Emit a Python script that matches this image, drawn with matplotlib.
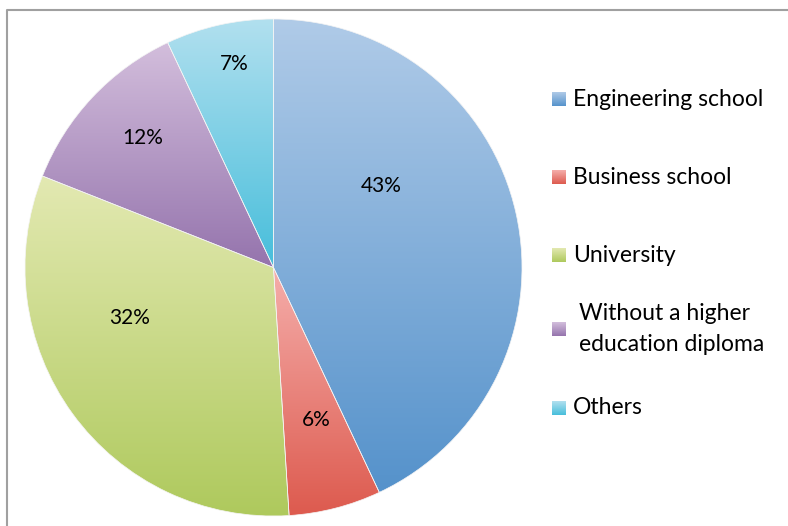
#!/usr/bin/env python3

import matplotlib
matplotlib.use('Agg')
import matplotlib.pyplot as plt
import numpy as np
from matplotlib.colors import LinearSegmentedColormap
from matplotlib.lines import Line2D

plt.rcParams['font.family'] = ['Lato', 'DejaVu Sans']

categories = ['Engineering school', 'Business school', 'University',
              'Without a higher\neducation diploma', 'Others']
shares = [43, 6, 32, 12, 7]
pct_labels = ['43%', '6%', '32%', '12%', '7%']

# (top colour, bottom colour) of each slice's gradient
grad_colors = [('#b0cbe8', '#5592cb'),
               ('#f5aeab', '#dd5a4e'),
               ('#e3e9b2', '#aec95c'),
               ('#d3bedc', '#9574ad'),
               ('#b2e0ef', '#47bedb')]

# where the percent labels sit, in pie radius units
label_pos = [(0.433, 0.328), (0.171, -0.614), (-0.581, -0.203),
             (-0.525, 0.521), (-0.159, 0.819)]

W, H = 788, 526
fig = plt.figure(figsize=(W / 100, H / 100), dpi=100)

# overlay axes in pixel units for frame and legend
lax = fig.add_axes([0, 0, 1, 1])
lax.set_xlim(0, W)
lax.set_ylim(H, 0)
lax.axis('off')

# pie axes: centre (273.5, 267.5), radius 248.5 px
cx, cy, R = 273.5, 267.5, 248.5
ax = fig.add_axes([(cx - R) / W, (H - cy - R) / H, 2 * R / W, 2 * R / H])

wedges, _ = ax.pie(shares, startangle=90, counterclock=False, radius=1,
                   wedgeprops=dict(facecolor='none', edgecolor='#f4f4f4', linewidth=0.5))

grad = np.linspace(0, 1, 256).reshape(-1, 1)
for w, (c_top, c_bot) in zip(wedges, grad_colors):
    verts = w.get_patch_transform().transform(w.get_path().vertices)
    x0, y0 = verts.min(axis=0)
    x1, y1 = verts.max(axis=0)
    cmap = LinearSegmentedColormap.from_list('g', [c_top, c_bot])
    im = ax.imshow(grad, cmap=cmap, extent=[x0, x1, y0, y1], origin='upper',
                   aspect='auto', interpolation='bilinear', zorder=0)
    im.set_clip_path(w)
    w.set_zorder(1)

for txt, (px, py) in zip(pct_labels, label_pos):
    ax.text(px, py, txt, ha='center', va='center', fontsize=15, color='black', zorder=3)

ax.set_xlim(-1, 1)
ax.set_ylim(-1, 1)
ax.set_aspect('auto')
ax.axis('off')

# chart area border (top and left visible)
lax.add_line(Line2D([7.5, 7.5, W + 5], [H + 5, 10, 10], color='#a0a0a0', linewidth=1.5))

# legend
legend_y = [99, 177, 255, 329, 408]
text_x = [573, 573, 573, 579, 573]
for (c_top, c_bot), name, ly, tx in zip(grad_colors, categories, legend_y, text_x):
    cmap = LinearSegmentedColormap.from_list('g', [c_top, c_bot])
    lax.imshow(grad, cmap=cmap, extent=[552, 566, ly + 7, ly - 7], origin='upper',
               aspect='auto', interpolation='bilinear')
    lax.text(tx, ly, name, ha='left', va='center', fontsize=16.5, color='black',
             linespacing=1.55)

lax.set_xlim(0, W)
lax.set_ylim(H, 0)

fig.savefig('out.png', dpi=100)
